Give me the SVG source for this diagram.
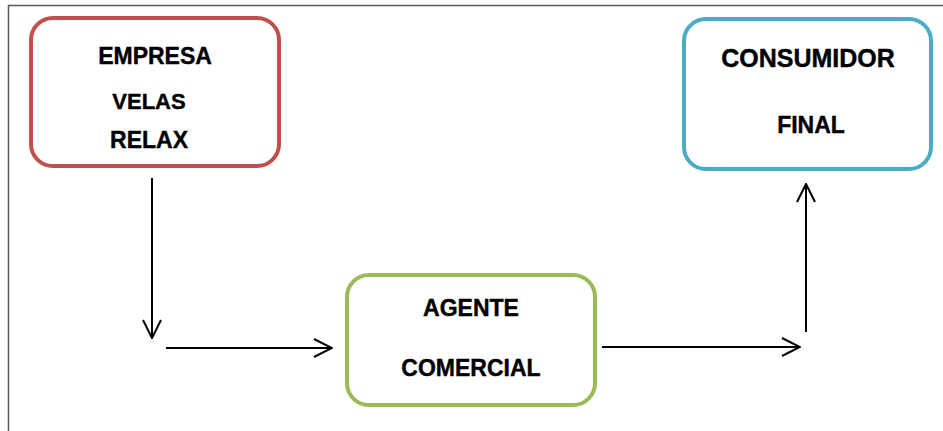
<svg xmlns="http://www.w3.org/2000/svg" width="943" height="431" viewBox="0 0 943 431">
<style>
.box{fill:#fff;stroke-width:4}
.t{font-family:"Liberation Sans",Arial,sans-serif;font-weight:bold;font-size:23px;text-anchor:middle;fill:#000;stroke:#000;stroke-width:0.4}
.c{stroke:#000;stroke-width:2;fill:none}
</style>
<defs>
<marker id="ah" viewBox="0 0 20 20" refX="19" refY="10" markerWidth="20" markerHeight="20" markerUnits="userSpaceOnUse" orient="auto">
<path d="M1,1 L19,10 L1,19" fill="none" stroke="#000" stroke-width="2"/>
</marker>
</defs>
<rect width="943" height="431" fill="#fff"/>
<path d="M8.5,431 L8.5,5.5 L943,5.5" fill="none" stroke="#5a5a5a" stroke-width="1.5"/>
<g id="empresa">
<rect class="box" x="31" y="18" width="248" height="148" rx="22" stroke="#C0504D"/>
<text class="t" x="155" y="64">EMPRESA</text>
<text class="t" x="149" y="109" style="font-size:22px">VELAS</text>
<text class="t" x="149" y="148">RELAX</text>
</g>
<g id="consumidor">
<rect class="box" x="684" y="19" width="247" height="150" rx="22" stroke="#4BACC6"/>
<text class="t" x="808" y="67" style="font-size:25px">CONSUMIDOR</text>
<text class="t" x="811" y="133">FINAL</text>
</g>
<g id="agente">
<rect class="box" x="347" y="275" width="248" height="130" rx="22" stroke="#9BBB59"/>
<text class="t" x="471" y="316">AGENTE</text>
<text class="t" x="471" y="376">COMERCIAL</text>
</g>
<g id="connectors">
<line class="c" x1="152" y1="178" x2="152" y2="338" marker-end="url(#ah)"/>
<line class="c" x1="166" y1="348" x2="332" y2="348" marker-end="url(#ah)"/>
<line class="c" x1="602" y1="347" x2="800" y2="347" marker-end="url(#ah)"/>
<line class="c" x1="806" y1="332" x2="806" y2="184" marker-end="url(#ah)"/>
</g>
</svg>
